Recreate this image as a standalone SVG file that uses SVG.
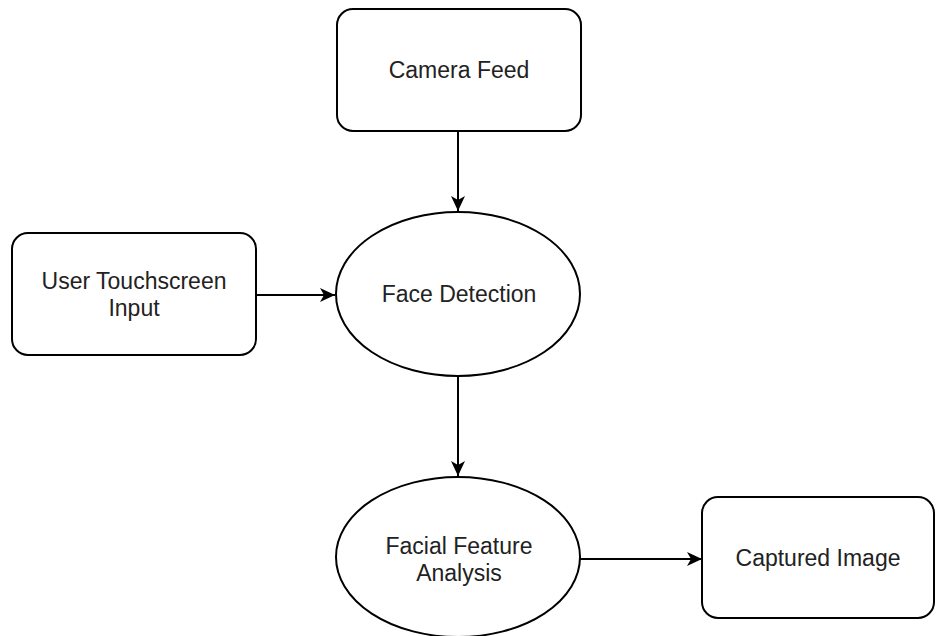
<svg xmlns="http://www.w3.org/2000/svg" width="936" height="636" viewBox="0 0 936 636">
<defs>
<style>
.box{fill:#fff;stroke:#000;stroke-width:2}
.lbl{font-family:"Liberation Sans",Arial,sans-serif;font-size:23px;fill:#222;text-anchor:middle}
.edge{fill:none;stroke:#000;stroke-width:2}
</style>
<marker id="ah" markerUnits="userSpaceOnUse" markerWidth="16" markerHeight="14" refX="15" refY="7" orient="auto">
<path d="M0,0 L15,7 L0,14 L4,7 Z" fill="#000"/>
</marker>
</defs>
<rect width="936" height="636" fill="#fff"/>
<g id="camera-feed">
<rect class="box" x="337" y="9" width="244" height="122" rx="16"/>
<text class="lbl" x="459" y="78">Camera Feed</text>
</g>
<g id="user-input">
<rect class="box" x="12" y="233" width="244" height="122" rx="16"/>
<text class="lbl" x="134" y="289">User Touchscreen</text>
<text class="lbl" x="134" y="316">Input</text>
</g>
<g id="face-detection">
<ellipse class="box" cx="458" cy="294" rx="122" ry="82"/>
<text class="lbl" x="459" y="302">Face Detection</text>
</g>
<g id="facial-feature">
<ellipse class="box" cx="458" cy="557" rx="122" ry="80"/>
<text class="lbl" x="459" y="554">Facial Feature</text>
<text class="lbl" x="459" y="581">Analysis</text>
</g>
<g id="captured-image">
<rect class="box" x="702" y="497" width="232" height="121" rx="16"/>
<text class="lbl" x="818" y="566">Captured Image</text>
</g>
<g id="connectors">
<path class="edge" d="M458,131 L458,211" marker-end="url(#ah)"/>
<path class="edge" d="M256,295 L335,295" marker-end="url(#ah)"/>
<path class="edge" d="M458,376 L458,476" marker-end="url(#ah)"/>
<path class="edge" d="M580,559 L702,559" marker-end="url(#ah)"/>
</g>
</svg>
